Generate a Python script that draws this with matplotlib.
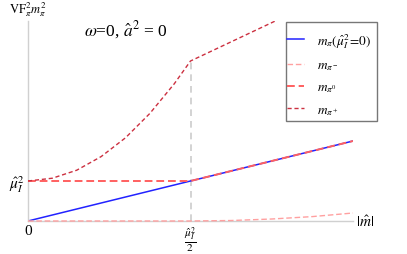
import matplotlib
matplotlib.use("Agg")
import matplotlib.pyplot as plt
from matplotlib.patches import Rectangle

plt.rcParams['font.family'] = ['Liberation Serif', 'DejaVu Serif']
plt.rcParams['mathtext.fontset'] = 'stix'

# data (x in units of mu_I^2/2, y in units of mu_I^2)
x_half = 1.0

m_pi_x = [0.0, 2.0]
m_pi_y = [0.0, 2.0]

m_pim_x = [0.0, 1.0, 1.25, 1.5, 1.75, 2.0]
m_pim_y = [0.0, 0.0, 0.012, 0.05, 0.11, 0.2]

m_pi0_x = [0.0, 1.0, 2.0]
m_pi0_y = [1.0, 1.0, 2.0]

m_pip_x = [0.0, 0.15, 0.3, 0.45, 0.6, 0.75, 0.9, 1.0, 1.6]
m_pip_y = [1.0, 1.07, 1.27, 1.61, 2.08, 2.69, 3.43, 4.0, 5.15]

fig = plt.figure(figsize=(4.07, 2.55), dpi=100)
ax = fig.add_axes([28 / 407, 33 / 255, 325 / 407, 200 / 255])
ax.set_xlim(0, 2.0)
ax.set_ylim(0, 5.0)

for s in ['top', 'right']:
    ax.spines[s].set_visible(False)
for s in ['left', 'bottom']:
    ax.spines[s].set_color('#d0d0d0')
    ax.spines[s].set_linewidth(1.0)
ax.patch.set_alpha(0)

# vertical guide at mu_I^2/2
ax.plot([x_half, x_half], [0, 4.0], color='#cccccc', ls=(0, (4, 3)), lw=1.2, zorder=1)

ax.plot(m_pi_x, m_pi_y, color='#2222ff', lw=1.1, label=r'$m_\pi(\hat\mu_I^2\!=\!0)$', zorder=2)
ax.plot(m_pim_x, m_pim_y, color='#ffa0a0', ls=(0, (4, 2)), lw=1.0, label=r'$m_{\pi^-}$', zorder=3, clip_on=False)
ax.plot(m_pi0_x, m_pi0_y, color='#ff6060', ls=(0, (4, 2)), lw=1.4, label=r'$m_{\pi^0}$', zorder=4)
ax.plot(m_pip_x, m_pip_y, color='#cc3040', ls=(0, (3, 2)), lw=1.0, label=r'$m_{\pi^+}$', zorder=5)

ax.set_xticks([0, x_half])
ax.set_xticklabels(['0', r'$\frac{\hat\mu_I^2}{2}$'], fontsize=11.5)
ax.xaxis.get_ticklabels()[0].set_fontsize(11)
ax.set_yticks([1.0])
ax.set_yticklabels([r'$\hat\mu_I^2$'], fontsize=11)
ax.tick_params(axis='x', length=0, pad=2)
ax.tick_params(axis='y', length=0, pad=2)

ax.text(2.02, 0.0, r'$|\hat m|$', fontsize=11, va='center', ha='left')
ax.text(0.0, 5.08, r'$\mathrm{VF}_\pi^2 m_\pi^2$', fontsize=9, va='bottom', ha='center')
ax.text(0.6, 4.8, r'$\omega$=0, $\hat a^2$ = 0', fontsize=12.5, va='center', ha='center')

# legend without its own frame, boxed by a plain rectangle
leg = fig.legend(loc='upper left', bbox_to_anchor=(287 / 407, 1 - 32 / 255),
                 borderaxespad=0, borderpad=0, frameon=False,
                 fontsize=9.5, handlelength=1.3, labelspacing=0.7,
                 handletextpad=1.0)
fig.patches.append(Rectangle((286 / 407, 1 - 122 / 255), 91 / 407, 99 / 255,
                             transform=fig.transFigure, fill=False,
                             edgecolor='#777777', lw=1.0))

fig.savefig('out.png', dpi=100)
